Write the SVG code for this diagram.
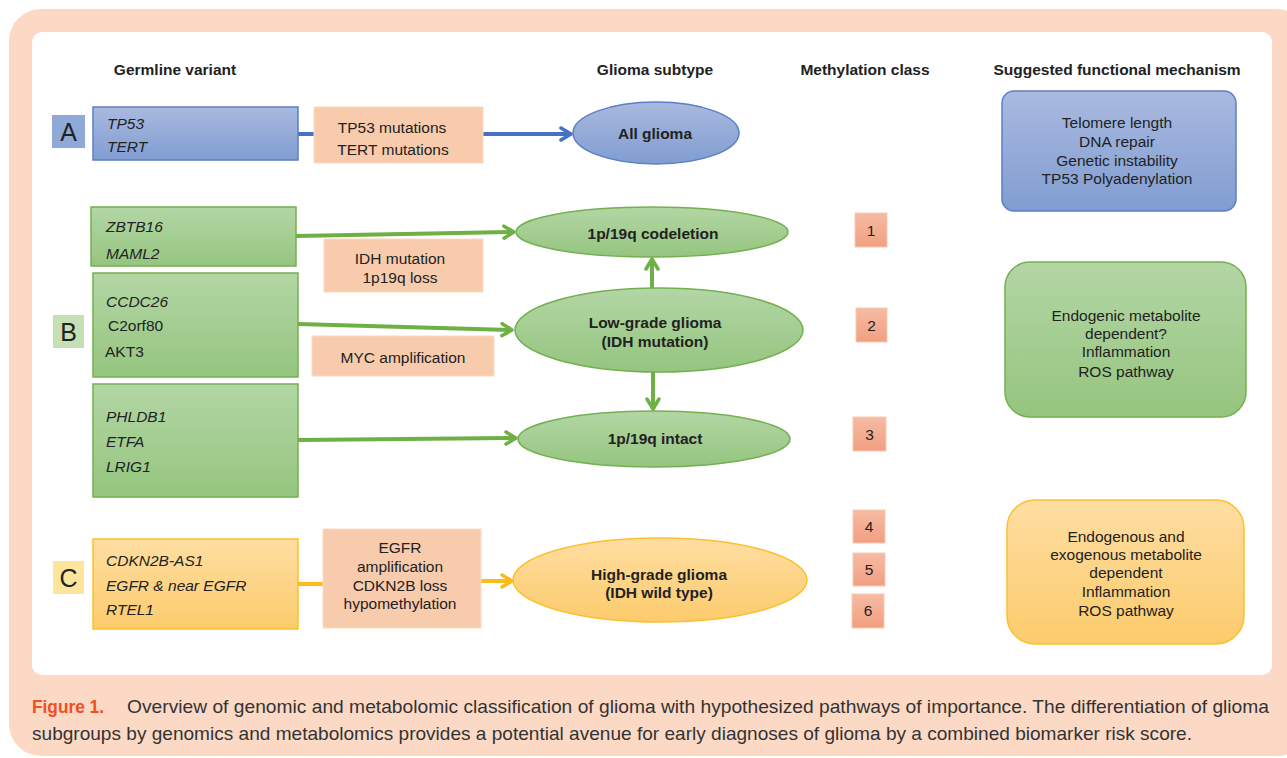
<svg xmlns="http://www.w3.org/2000/svg" width="1287" height="758" viewBox="0 0 1287 758">
<defs>
<linearGradient id="gBlue" x1="0" y1="0" x2="0" y2="1"><stop offset="0" stop-color="#aab9df"/><stop offset="1" stop-color="#809dd1"/></linearGradient>
<linearGradient id="gGreen" x1="0" y1="0" x2="0" y2="1"><stop offset="0" stop-color="#b3d6a5"/><stop offset="1" stop-color="#95c57f"/></linearGradient>
<linearGradient id="gYellow" x1="0" y1="0" x2="0" y2="1"><stop offset="0" stop-color="#fedea2"/><stop offset="1" stop-color="#fccb6c"/></linearGradient>
<linearGradient id="gSalmon" x1="0" y1="0" x2="0" y2="1"><stop offset="0" stop-color="#f6bba3"/><stop offset="1" stop-color="#f29f80"/></linearGradient>
<marker id="aBlue" viewBox="0 0 14 16" refX="12" refY="8" markerWidth="14" markerHeight="16" markerUnits="userSpaceOnUse" orient="auto"><path d="M2,2 L12,8 L2,14" fill="none" stroke="#4472c4" stroke-width="3.5" stroke-linecap="round" stroke-linejoin="round"/></marker>
<marker id="aGreen" viewBox="0 0 14 16" refX="12" refY="8" markerWidth="14" markerHeight="16" markerUnits="userSpaceOnUse" orient="auto"><path d="M2,2 L12,8 L2,14" fill="none" stroke="#6eb043" stroke-width="3.5" stroke-linecap="round" stroke-linejoin="round"/></marker>
<marker id="aYellow" viewBox="0 0 14 16" refX="12" refY="8" markerWidth="14" markerHeight="16" markerUnits="userSpaceOnUse" orient="auto"><path d="M2,2 L12,8 L2,14" fill="none" stroke="#fbbb1a" stroke-width="3.5" stroke-linecap="round" stroke-linejoin="round"/></marker>
</defs>
<style>
text{font-family:"Liberation Sans",Arial,sans-serif;fill:#222;font-size:15.5px}
.hd{font-weight:bold}
.it{font-style:italic}
.b{font-weight:bold}
.c{text-anchor:middle}
.big{font-size:25px}
.blue{fill:url(#gBlue);stroke:#5a7fc6;stroke-width:1.5}
.green{fill:url(#gGreen);stroke:#74b050;stroke-width:1.5}
.yellow{fill:url(#gYellow);stroke:#fbc02d;stroke-width:1.5}
.peach{fill:#f8cbad;stroke:#fbd9c4;stroke-width:1}
.salmon{fill:url(#gSalmon);stroke:#f8c9b5;stroke-width:1}
.lb{stroke:#4472c4;stroke-width:4;fill:none}
.lg{stroke:#6eb043;stroke-width:4;fill:none}
.ly{stroke:#fbbb1a;stroke-width:4;fill:none}
.cap{font-family:"Liberation Sans",Arial,sans-serif;font-size:19px;fill:#333}
</style>
<rect x="9" y="9" width="1300" height="747" rx="32" fill="#fcd9c5"/>
<rect x="32" y="32" width="1240" height="643" rx="10" fill="#ffffff"/>
<g id="headers">
<text class="hd" x="175" y="75" text-anchor="middle">Germline variant</text>
<text class="hd" x="655" y="75" text-anchor="middle">Glioma subtype</text>
<text class="hd" x="865" y="75" text-anchor="middle">Methylation class</text>
<text class="hd" x="1117" y="75" text-anchor="middle">Suggested functional mechanism</text>
</g>
<g id="connectors">
<path class="lb" d="M298,134 H315"/>
<path class="lb" d="M482,134 H571" marker-end="url(#aBlue)"/>
<path class="lg" d="M296,236 L514,232" marker-end="url(#aGreen)"/>
<path class="lg" d="M298,324 L512,330" marker-end="url(#aGreen)"/>
<path class="lg" d="M298,440 L516,438" marker-end="url(#aGreen)"/>
<path class="lg" d="M652,288 V259" marker-end="url(#aGreen)"/>
<path class="lg" d="M653,372 V409" marker-end="url(#aGreen)"/>
<path class="ly" d="M298,584 H324"/>
<path class="ly" d="M480,581 H512" marker-end="url(#aYellow)"/>
</g>
<g id="labelA"><rect x="52" y="115" width="33" height="33" fill="#8faad9"/><text class="big c" x="68.5" y="141">A</text></g>
<g id="labelB"><rect x="53" y="315" width="31" height="33" fill="#c5e0b4"/><text class="big c" x="68.5" y="341">B</text></g>
<g id="labelC"><rect x="53" y="561" width="31" height="33" fill="#fde69c"/><text class="big c" x="68.5" y="587">C</text></g>
<g id="germA"><rect class="blue" x="93" y="107" width="205" height="53"/><text class="it" x="107" y="129">TP53</text><text class="it" x="107" y="152">TERT</text></g>
<g id="germB1"><rect class="green" x="91" y="207" width="205" height="59"/><text class="it" x="106" y="232">ZBTB16</text><text class="it" x="106" y="259">MAML2</text></g>
<g id="germB2"><rect class="green" x="93" y="273" width="205" height="104"/><text class="it" x="106" y="307">CCDC26</text><text x="108" y="331">C2orf80</text><text x="105" y="357">AKT3</text></g>
<g id="germB3"><rect class="green" x="93" y="384" width="205" height="113"/><text class="it" x="106" y="422">PHLDB1</text><text class="it" x="106" y="447">ETFA</text><text class="it" x="106" y="472">LRIG1</text></g>
<g id="germC"><rect class="yellow" x="93" y="539" width="205" height="90"/><text class="it" x="106" y="566">CDKN2B-AS1</text><text class="it" x="106" y="591">EGFR &amp; near EGFR</text><text class="it" x="106" y="615">RTEL1</text></g>
<g id="mutA"><rect class="peach" x="314" y="107" width="169" height="56"/><text class="c" x="392" y="133">TP53 mutations</text><text class="c" x="393" y="155">TERT mutations</text></g>
<g id="mutB1"><rect class="peach" x="324" y="239" width="159" height="53"/><text class="c" x="400" y="264">IDH mutation</text><text class="c" x="400" y="283">1p19q loss</text></g>
<g id="mutB2"><rect class="peach" x="312" y="336" width="182" height="40"/><text class="c" x="403" y="363">MYC amplification</text></g>
<g id="mutC"><rect class="peach" x="323" y="529" width="158" height="99"/><text class="c" x="400" y="553">EGFR</text><text class="c" x="400" y="572">amplification</text><text class="c" x="400" y="591">CDKN2B loss</text><text class="c" x="400" y="609">hypomethylation</text></g>
<g id="allGlioma"><ellipse class="blue" cx="656" cy="133" rx="83" ry="31"/><text class="b c" x="655" y="139">All glioma</text></g>
<g id="codeletion"><ellipse class="green" cx="652" cy="232" rx="136" ry="25"/><text class="b c" x="653" y="239">1p/19q codeletion</text></g>
<g id="lowGrade"><ellipse class="green" cx="659" cy="330" rx="144" ry="42"/><text class="b c" x="655" y="328">Low-grade glioma</text><text class="b c" x="655" y="347">(IDH mutation)</text></g>
<g id="intact"><ellipse class="green" cx="654" cy="439" rx="136" ry="28"/><text class="b c" x="655" y="444">1p/19q intact</text></g>
<g id="highGrade"><ellipse class="yellow" cx="660" cy="580" rx="147" ry="42"/><text class="b c" x="659" y="580">High-grade glioma</text><text class="b c" x="659" y="598">(IDH wild type)</text></g>
<g id="meth1"><rect class="salmon" x="855" y="213" width="32" height="34"/><text class="c" x="871" y="236">1</text></g>
<g id="meth2"><rect class="salmon" x="856" y="308" width="31" height="34"/><text class="c" x="871.5" y="331">2</text></g>
<g id="meth3"><rect class="salmon" x="853" y="417" width="33" height="34"/><text class="c" x="869.5" y="440">3</text></g>
<g id="meth4"><rect class="salmon" x="853" y="510" width="32" height="33"/><text class="c" x="869" y="532">4</text></g>
<g id="meth5"><rect class="salmon" x="853" y="553" width="32" height="33"/><text class="c" x="869" y="575">5</text></g>
<g id="meth6"><rect class="salmon" x="852" y="594" width="32" height="34"/><text class="c" x="868" y="616">6</text></g>
<g id="mechA"><rect class="blue" x="1002" y="91" width="234" height="120" rx="12"/><text class="c" x="1117" y="128">Telomere length</text><text class="c" x="1117" y="147">DNA repair</text><text class="c" x="1117" y="166">Genetic instability</text><text class="c" x="1117" y="184">TP53 Polyadenylation</text></g>
<g id="mechB"><rect class="green" x="1005" y="262" width="241" height="155" rx="25"/><text class="c" x="1126" y="321">Endogenic metabolite</text><text class="c" x="1126" y="339">dependent?</text><text class="c" x="1126" y="357">Inflammation</text><text class="c" x="1126" y="377">ROS pathway</text></g>
<g id="mechC"><rect class="yellow" x="1007" y="500" width="237" height="144" rx="28"/><text class="c" x="1126" y="542">Endogenous and</text><text class="c" x="1126" y="560">exogenous metabolite</text><text class="c" x="1126" y="578">dependent</text><text class="c" x="1126" y="597">Inflammation</text><text class="c" x="1126" y="616">ROS pathway</text></g>
<g id="caption">
<text class="cap" x="32" y="713" textLength="72" lengthAdjust="spacingAndGlyphs" style="font-weight:bold;fill:#f04e23">Figure 1.</text>
<text class="cap" x="127" y="713" textLength="1142" lengthAdjust="spacingAndGlyphs">Overview of genomic and metabolomic classification of glioma with hypothesized pathways of importance. The differentiation of glioma</text>
<text class="cap" x="32" y="740" textLength="1160" lengthAdjust="spacingAndGlyphs">subgroups by genomics and metabolomics provides a potential avenue for early diagnoses of glioma by a combined biomarker risk score.</text>
</g>
</svg>
